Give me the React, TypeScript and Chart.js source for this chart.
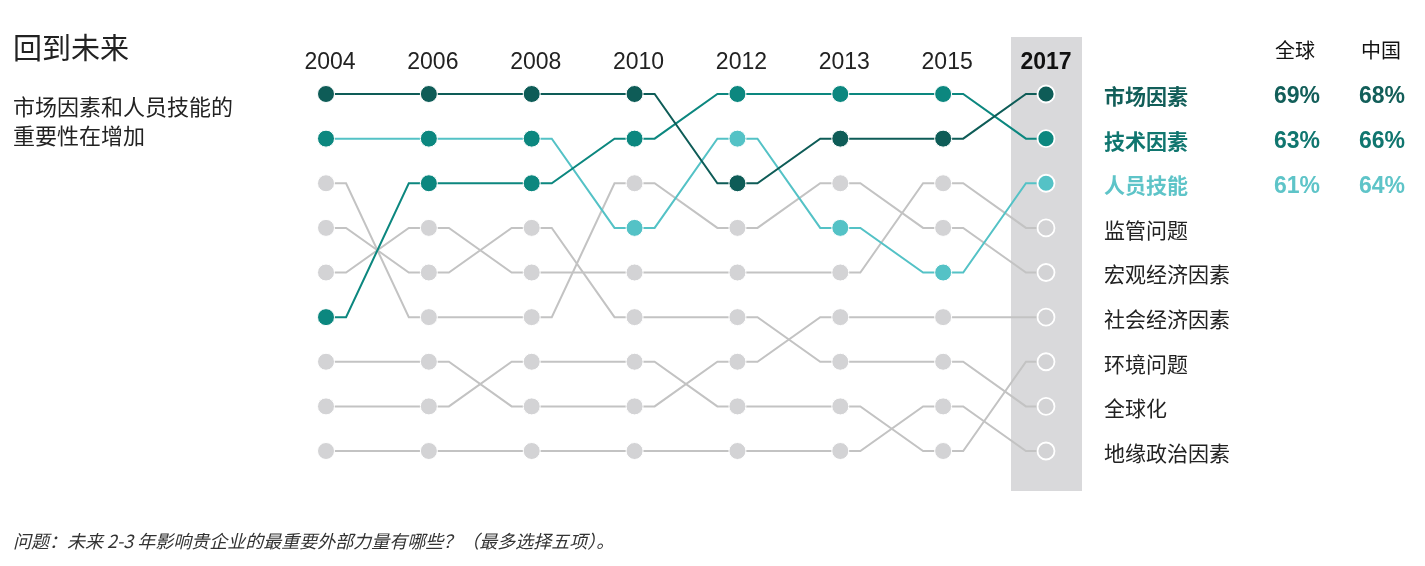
import React, { useEffect, useRef } from 'react';
import { Chart, registerables } from 'chart.js';

Chart.register(...registerables);

// ---------- data ----------
const years = ['2004', '2006', '2008', '2010', '2012', '2013', '2015', '2017'];
const seriesNames = ['市场因素', '技术因素', '人员技能', '监管问题', '宏观经济因素', '社会经济因素', '环境问题', '全球化', '地缘政治因素'];
const marketRanks = [1, 1, 1, 1, 3, 2, 2, 1];
const techRanks = [6, 3, 3, 2, 1, 1, 1, 2];
const peopleRanks = [2, 2, 2, 4, 2, 4, 5, 3];
const regulatoryRanks = [5, 4, 5, 5, 5, 5, 3, 4];
const macroRanks = [3, 6, 6, 3, 4, 3, 4, 5];
const socioRanks = [7, 7, 8, 8, 7, 6, 6, 6];
const environRanks = [8, 8, 7, 7, 8, 8, 9, 7];
const globalizationRanks = [4, 5, 4, 6, 6, 7, 7, 8];
const geopoliticsRanks = [9, 9, 9, 9, 9, 9, 8, 9];
const globalPct = ['69%', '63%', '61%'];
const chinaPct = ['68%', '66%', '64%'];
const title = '回到未来';
const subtitleLines = ['市场因素和人员技能的', '重要性在增加'];
const colHeaders = ['全球', '中国'];
const footnote = '问题：未来 2-3 年影响贵企业的最重要外部力量有哪些？（最多选择五项）。';

const allRanks = [marketRanks, techRanks, peopleRanks, regulatoryRanks, macroRanks, socioRanks, environRanks, globalizationRanks, geopoliticsRanks];

// ---------- styles ----------
const W = 1425;
const H = 566;
const DARK = '#0e5c57';
const TEAL = '#0c877f';
const CYAN = '#54c2c6';
const GRAY_LINE = '#c3c3c3';
const GRAY_PT = '#d3d3d5';
const BAND = '#d9d9db';
const lineColors = [DARK, TEAL, CYAN, GRAY_LINE, GRAY_LINE, GRAY_LINE, GRAY_LINE, GRAY_LINE, GRAY_LINE];
const labelColors = ['#125e59', '#10766f', '#5ec4c8', '#222', '#222', '#222', '#222', '#222', '#222'];
const FLAT = 0.195;
const CJK = '"Noto Sans CJK SC", "Noto Sans", sans-serif';
const LAT = '"Liberation Sans", Arial, sans-serif';

function pointColor(series: number, idx: number): string {
  if (series === 0) return DARK;
  if (series === 1) return TEAL;
  if (series === 2) return idx <= 2 ? TEAL : CYAN;
  return GRAY_PT;
}

function buildPath(ranks: number[], series: number) {
  const pts: any[] = [];
  ranks.forEach((r, i) => {
    if (i > 0) pts.push({ x: i - FLAT, y: r, m: false, i, s: series });
    pts.push({ x: i, y: r, m: true, i, s: series });
    if (i < ranks.length - 1) pts.push({ x: i + FLAT, y: r, m: false, i, s: series });
  });
  return pts;
}

const bandPlugin = {
  id: 'band',
  beforeDatasetsDraw(chart: any) {
    const { ctx, scales } = chart;
    const cx = scales.x.getPixelForValue(years.length - 1);
    ctx.save();
    ctx.fillStyle = BAND;
    ctx.fillRect(cx - 35, 37, 71, 454);
    ctx.restore();
  },
};

const textPlugin = {
  id: 'texts',
  afterDraw(chart: any) {
    const { ctx, scales } = chart;
    const xs = scales.x;
    const ys = scales.y;
    ctx.save();
    ctx.textBaseline = 'middle';

    // title
    ctx.fillStyle = '#222';
    ctx.textAlign = 'left';
    ctx.font = `29px ${CJK}`;
    ctx.fillText(title, 13, 48);
    ctx.font = `22px ${CJK}`;
    subtitleLines.forEach((t, k) => ctx.fillText(t, 13, 107 + k * 29));

    // years
    years.forEach((y, i) => {
      const last = i === years.length - 1;
      ctx.font = `${last ? 'bold ' : ''}23px ${LAT}`;
      ctx.fillStyle = last ? '#111' : '#222';
      ctx.textAlign = 'center';
      ctx.fillText(y, xs.getPixelForValue(i) + (last ? 0 : 4), 63);
    });

    // series labels at final ranks
    seriesNames.forEach((name, s) => {
      const r = allRanks[s][allRanks[s].length - 1];
      const py = ys.getPixelForValue(r) + 2;
      ctx.font = `${s < 3 ? 'bold ' : ''}21px ${CJK}`;
      ctx.fillStyle = labelColors[s];
      ctx.textAlign = 'left';
      ctx.fillText(name, 1104, py);
      if (s < 3) {
        ctx.font = `bold 23px ${LAT}`;
        ctx.textAlign = 'right';
        ctx.fillText(globalPct[s], 1320, py + 1);
        ctx.fillText(chinaPct[s], 1405, py + 1);
      }
    });

    // column headers
    ctx.font = `20px ${CJK}`;
    ctx.fillStyle = '#111';
    ctx.textAlign = 'center';
    ctx.fillText(colHeaders[0], 1295, 50);
    ctx.fillText(colHeaders[1], 1381, 50);

    // footnote
    ctx.font = `italic 18px ${CJK}`;
    ctx.fillStyle = '#333';
    ctx.textAlign = 'left';
    ctx.fillText(footnote, 13, 541);
    ctx.restore();
  },
};

export default function App() {
  const ref = useRef<HTMLCanvasElement | null>(null);

  useEffect(() => {
    document.body.style.margin = '0';
    if (!ref.current) return;
    const lastIdx = years.length - 1;
    const datasets = allRanks.map((ranks, s) => ({
      label: seriesNames[s],
      data: buildPath(ranks, s),
      borderColor: lineColors[s],
      borderWidth: 2,
      tension: 0,
      fill: false,
      clip: false,
      order: s,
      pointRadius: (c: any) => (c.raw && c.raw.m ? 8.5 : 0),
      pointHoverRadius: (c: any) => (c.raw && c.raw.m ? 8.5 : 0),
      pointBorderWidth: (c: any) => (c.raw && c.raw.i === lastIdx ? 1.8 : 1),
      pointBorderColor: '#ffffff',
      pointBackgroundColor: (c: any) => (c.raw ? pointColor(c.raw.s, c.raw.i) : GRAY_PT),
    }));

    const chart = new Chart(ref.current, {
      type: 'line',
      data: { datasets },
      options: {
        animation: false,
        responsive: false,
        events: [],
        layout: { padding: { left: 326, right: W - 1046, top: 94, bottom: H - 451 } },
        plugins: { legend: { display: false }, tooltip: { enabled: false } },
        scales: {
          x: { type: 'linear', min: 0, max: years.length - 1, display: false },
          y: { type: 'linear', min: 1, max: 9, reverse: true, display: false },
        },
      },
      plugins: [bandPlugin, textPlugin],
    });
    return () => chart.destroy();
  }, []);

  return (
    <div style={{ width: W, height: H, position: 'relative', background: '#fff' }}>
      <canvas ref={ref} width={W} height={H} style={{ width: W, height: H, display: 'block' }} />
    </div>
  );
}
